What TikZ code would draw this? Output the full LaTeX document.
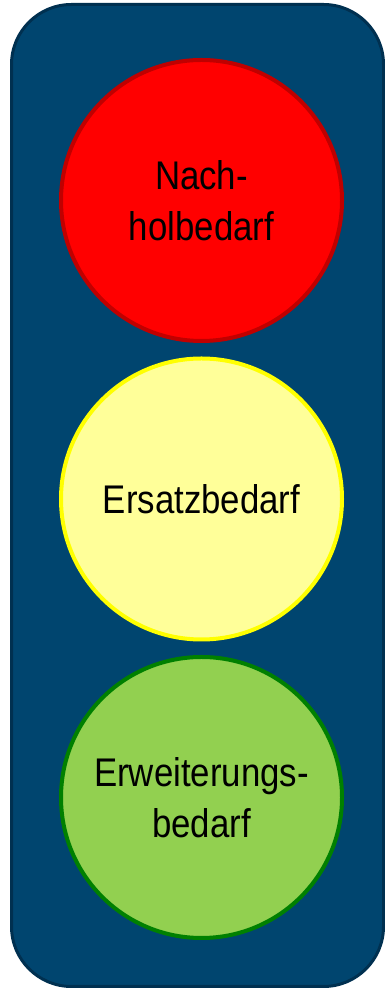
\documentclass[tikz,border=0pt]{standalone}
\usepackage{fontspec}
\setmainfont{Liberation Sans}
\usepackage{tikz}
\usepackage{graphicx}
\definecolor{tlbox}{RGB}{0,69,111}
\definecolor{tlboxline}{RGB}{0,48,80}
\definecolor{tlred}{RGB}{255,0,0}
\definecolor{tlredline}{RGB}{192,0,0}
\definecolor{tlyellow}{RGB}{255,255,153}
\definecolor{tlyellowline}{RGB}{255,255,0}
\definecolor{tlgreen}{RGB}{146,208,80}
\definecolor{tlgreenline}{RGB}{0,128,0}
\newcommand{\narrowtext}[1]{\scalebox{0.87}[1]{#1}}

\begin{document}
\begin{tikzpicture}[x=1pt,y=1pt,
    lamp/.style={circle,minimum size=281pt,inner sep=0pt,line width=4pt,
        align=center,font=\fontsize{40}{51}\selectfont}]
    % Define the canvas
    \useasboundingbox (0,0) rectangle (385,991);

    % Draw the housing
    \draw[line width=3pt,draw=tlboxline,fill=tlbox,
        rounded corners=60pt] (11.5,4.5) rectangle (383.5,986.5);

    % Draw the lamps
    \node[lamp,draw=tlredline,fill=tlred] (nachholbedarf) at (201.5,790.5)
        {\narrowtext{Nach-}\\\narrowtext{holbedarf}};
    \node[lamp,draw=tlyellowline,fill=tlyellow] (ersatzbedarf) at (201.5,492)
        {\narrowtext{Ersatzbedarf}};
    \node[lamp,draw=tlgreenline,fill=tlgreen] (erweiterungsbedarf) at (201.5,193.5)
        {\narrowtext{Erweiterungs-}\\\narrowtext{bedarf}};
\end{tikzpicture}
\end{document}
